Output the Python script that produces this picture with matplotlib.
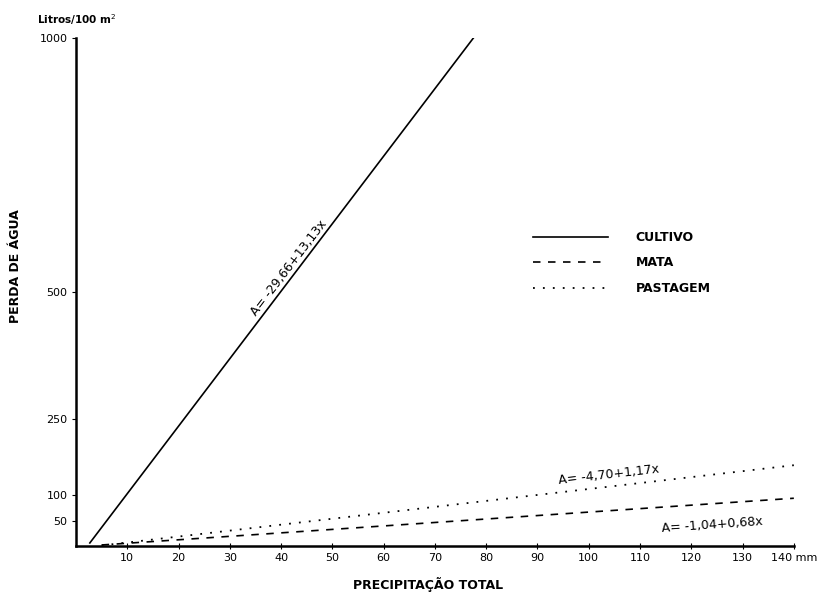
import matplotlib.pyplot as plt
import numpy as np

# dados (retas de regressão)
cultivo_x = [2.7, 77.5]
cultivo_y = [6, 1000]
mata_x = [5, 140]
mata_y = [2, 94]
pastagem_x = [5, 140]
pastagem_y = [1, 159]

x_ticks = [10, 20, 30, 40, 50, 60, 70, 80, 90, 100, 110, 120, 130, 140]
x_labels = ["10", "20", "30", "40", "50", "60", "70", "80", "90", "100", "110", "120", "130", "140 mm"]
y_ticks = [50, 100, 250, 500, 1000]

fig = plt.figure(figsize=(8.27, 5.99), dpi=100)
ax = fig.add_axes([0.0919, 0.0885, 0.868, 0.848])

ax.plot(cultivo_x, cultivo_y, color='black', lw=1.2, label='CULTIVO')
ax.plot(mata_x, mata_y, color='black', lw=1.2, linestyle=(0, (4.5, 4.5)), label='MATA')
ax.plot(pastagem_x, pastagem_y, color='black', lw=1.3, linestyle=(0, (1, 4.5)), label='PASTAGEM')

ax.set_xlim(0, 140)
ax.set_ylim(0, 1000)
ax.spines['top'].set_visible(False)
ax.spines['right'].set_visible(False)
ax.spines['left'].set_linewidth(1.8)
ax.spines['bottom'].set_linewidth(1.8)

ax.set_xticks(x_ticks)
ax.set_xticklabels(x_labels, fontsize=8)
ax.set_yticks(y_ticks)
ax.set_yticklabels([str(v) for v in y_ticks], fontsize=8)
ax.tick_params(axis='x', direction='inout', length=4, pad=3)
ax.tick_params(axis='y', direction='out', length=3, pad=3)

# rótulos dos eixos
ax.set_xlabel("PRECIPITAÇÃO TOTAL", fontsize=9, fontweight='bold')
ax.xaxis.set_label_coords(0.49, -0.062)
ax.set_ylabel("PERDA DE ÁGUA", fontsize=9, fontweight='bold')
ax.yaxis.set_label_coords(-0.075, 0.55)
fig.text(37 / 827, 1 - 20 / 599, "Litros/100 m$^2$", fontsize=7.5, fontweight='bold',
         va='center', ha='left')

# equações sobre as retas
ax.text(41.5, 547, "A= -29,66+13,13x", rotation=52.5, fontsize=9,
        ha='center', va='center', rotation_mode='anchor')
ax.text(104, 140, "A= -4,70+1,17x", rotation=6.5, fontsize=9,
        ha='center', va='center', rotation_mode='anchor')
ax.text(124, 42, "A= -1,04+0,68x", rotation=4, fontsize=9,
        ha='center', va='center', rotation_mode='anchor')

leg = ax.legend(loc='upper left', bbox_to_anchor=(533 / 827, 1 - 231 / 599),
                bbox_transform=fig.transFigure, frameon=False, handlelength=6,
                handletextpad=2.2, labelspacing=1.0, borderpad=0, borderaxespad=0,
                prop={'weight': 'bold', 'size': 9})

fig.savefig("out.png", dpi=100)
